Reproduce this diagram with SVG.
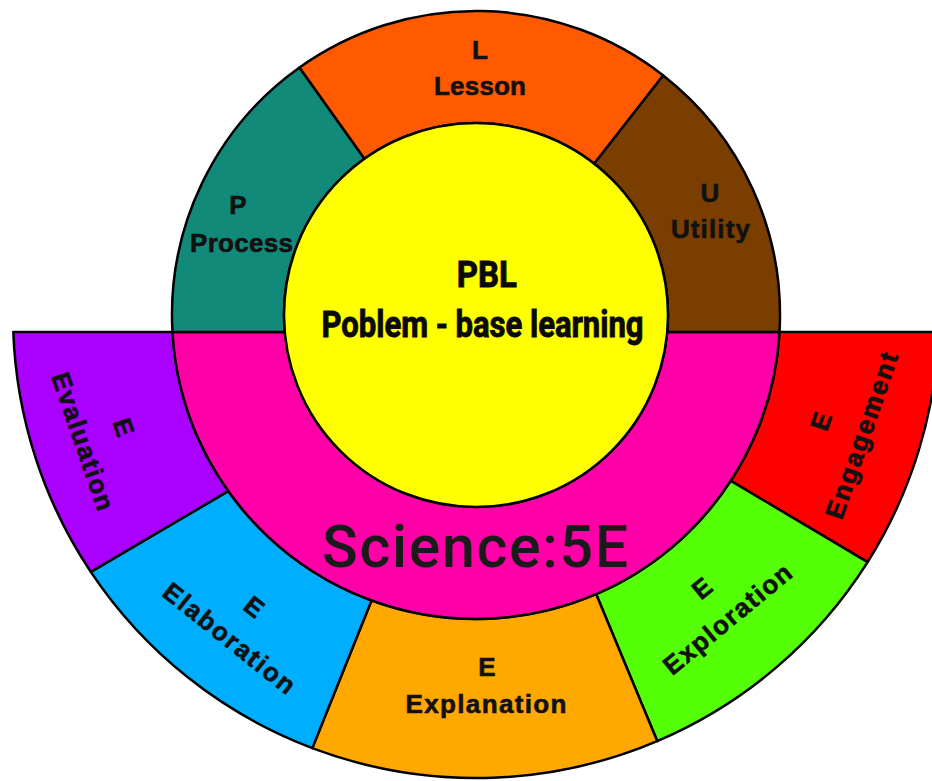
<svg xmlns="http://www.w3.org/2000/svg" width="932" height="781" viewBox="0 0 932 781">
<style>
.seg{stroke:#000;stroke-width:2.5;stroke-linejoin:round}
.lbl{font-family:"Liberation Sans",Arial,sans-serif;font-weight:700;font-size:26px;fill:#111;stroke:#111;stroke-width:0.6;text-anchor:middle}
.pbl{font-family:Roboto,"Liberation Sans",sans-serif;font-weight:700;font-size:36px;fill:#0a0a0a;stroke:#0a0a0a;stroke-width:0.9;text-anchor:middle}
.sci{font-family:Roboto,"Liberation Sans",sans-serif;font-weight:500;font-size:59px;fill:#1a1a1a;text-anchor:middle}
</style>
<rect width="932" height="781" fill="#fff"/>
<g id="connectors"/>
<g id="engagement">
<path class="seg" fill="#FF0000" d="M938.69 332 A463 463 0 0 1 867.6 562.1 L730.8 480.9 A304 304 0 0 0 779.52 332 Z"/>
<g transform="translate(840.8,428.3) rotate(-71)"><text class="lbl" x="0" y="-12">E</text><text class="lbl" x="0" y="31" textLength="174">Engagement</text></g>
</g>
<g id="exploration">
<path class="seg" fill="#55FF08" d="M867.6 562.1 A463 463 0 0 1 657.2 741.1 L596.2 594.2 A304 304 0 0 0 730.8 480.9 Z"/>
<g transform="translate(714.7,603.7) rotate(-39.5)"><text class="lbl" x="0" y="-11">E</text><text class="lbl" x="0" y="29" textLength="158">Exploration</text></g>
</g>
<g id="explanation">
<path class="seg" fill="#FFA800" d="M657.2 741.1 A463 463 0 0 1 312.3 748.1 L371.5 600.5 A304 304 0 0 0 596.2 594.2 Z"/>
<text class="lbl" x="487" y="676">E</text><text class="lbl" x="486" y="713.3" textLength="161">Explanation</text>
</g>
<g id="elaboration">
<path class="seg" fill="#00AEFF" d="M312.3 748.1 A463 463 0 0 1 90.8 571.9 L228.2 491.1 A304 304 0 0 0 371.5 600.5 Z"/>
<g transform="translate(241.7,622.5) rotate(38.5)"><text class="lbl" x="0" y="-11">E</text><text class="lbl" x="0" y="29" textLength="161">Elaboration</text></g>
</g>
<g id="evaluation">
<path class="seg" fill="#AA00FF" d="M90.8 571.9 A463 463 0 0 1 13.31 332 L172.48 332 A304 304 0 0 0 228.2 491.1 Z"/>
<g transform="translate(103.8,434.2) rotate(71)"><text class="lbl" x="0" y="-12">E</text><text class="lbl" x="0" y="31" textLength="144">Evaluation</text></g>
</g>
<g id="science-5e">
<path class="seg" fill="#FF00A8" d="M172.48 332 A304 304 0 0 0 779.52 332 L667.25 332 A192 192 0 0 1 284.75 332 Z"/>
<text class="sci" x="475" y="567" textLength="306">Science:5E</text>
</g>
<g id="process">
<path class="seg" fill="#128A7A" d="M172.48 332 A304 304 0 0 1 299.5 67.5 L364.5 158.7 A192 192 0 0 0 284.75 332 Z"/>
<text class="lbl" x="238" y="214.3">P</text><text class="lbl" x="241.5" y="251.7" textLength="103">Process</text>
</g>
<g id="lesson">
<path class="seg" fill="#FF5A00" d="M299.5 67.5 A304 304 0 0 1 663.2 75.4 L594.2 163.7 A192 192 0 0 0 364.5 158.7 Z"/>
<text class="lbl" x="480" y="59">L</text><text class="lbl" x="480" y="95" textLength="92">Lesson</text>
</g>
<g id="utility">
<path class="seg" fill="#7A3E00" d="M663.2 75.4 A304 304 0 0 1 779.52 332 L667.25 332 A192 192 0 0 0 594.2 163.7 Z"/>
<text class="lbl" x="710" y="201.7">U</text><text class="lbl" x="710.4" y="237.7" textLength="79">Utility</text>
</g>
<g id="pbl">
<circle class="seg" cx="476" cy="315" r="192" fill="#FFFF00"/>
<text class="pbl" x="486.7" y="286.7" textLength="60" lengthAdjust="spacingAndGlyphs">PBL</text>
<text class="pbl" x="482.5" y="336.7" textLength="322" lengthAdjust="spacingAndGlyphs">Poblem - base learning</text>
</g>
</svg>
